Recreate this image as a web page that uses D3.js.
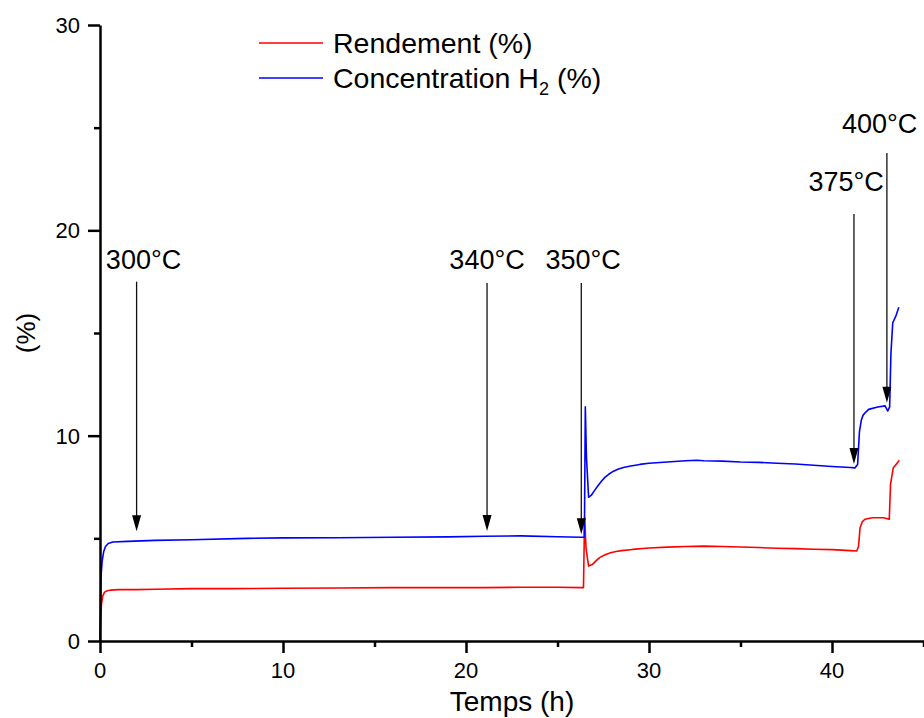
<!DOCTYPE html>
<html><head><meta charset="utf-8">
<script src="https://cdn.jsdelivr.net/npm/d3@7"></script>
<style>
html,body{margin:0;padding:0;background:#fff;}
svg{display:block;font-family:"Liberation Sans",Arial,sans-serif;}
</style></head>
<body><svg id="c" width="924" height="718"></svg>
<script>
// ---- data ----
const xTicksMajor = [0, 10, 20, 30, 40];
const xTicksMinor = [5, 15, 25, 35, 45];
const yTicksMajor = [0, 10, 20, 30];
const yTicksMinor = [5, 15, 25];

const seriesNames = ["Rendement (%)", "Concentration H2 (%)"];

const rendementTime = [0, 0.03, 0.08, 0.15, 0.25, 0.4, 0.6, 1, 2, 3, 5, 7, 10, 13, 16, 19, 21, 23, 25, 26.3, 26.42, 26.48, 26.56, 26.7, 26.9, 27.1, 27.3, 27.6, 27.9, 28.2, 28.5, 29.1, 30, 31, 32, 33, 34, 35, 36, 37, 38, 39, 40, 41, 41.35, 41.45, 41.53, 41.65, 41.8, 42.2, 42.8, 43.13, 43.2, 43.35, 43.5, 43.68];
const rendementValue = [0, 1.0, 1.8, 2.2, 2.38, 2.45, 2.48, 2.5, 2.5, 2.52, 2.55, 2.55, 2.57, 2.58, 2.6, 2.6, 2.6, 2.62, 2.62, 2.6, 2.6, 6.0, 4.5, 3.65, 3.72, 3.9, 4.06, 4.2, 4.3, 4.36, 4.4, 4.46, 4.53, 4.57, 4.6, 4.62, 4.6, 4.58, 4.55, 4.52, 4.5, 4.47, 4.45, 4.4, 4.38, 4.6, 5.5, 5.8, 5.93, 6.0, 6.0, 5.93, 7.64, 8.44, 8.6, 8.8];

const h2Time = [0, 0.03, 0.06, 0.12, 0.2, 0.3, 0.45, 0.7, 1.5, 3, 5, 8, 10, 13, 16, 19, 21, 23, 25, 26.3, 26.47, 26.52, 26.58, 26.7, 26.85, 27.0, 27.2, 27.4, 27.6, 27.8, 28.0, 28.3, 28.6, 29, 29.5, 30, 31, 32, 32.6, 33, 34, 35, 36, 37, 38, 39, 40, 41, 41.25, 41.4, 41.5, 41.6, 41.7, 41.85, 42, 42.5, 42.9, 43.05, 43.15, 43.22, 43.32, 43.5, 43.65];
const h2Value = [0, 2.0, 3.2, 3.9, 4.35, 4.6, 4.75, 4.82, 4.85, 4.9, 4.93, 5.0, 5.02, 5.03, 5.05, 5.07, 5.1, 5.12, 5.08, 5.05, 5.05, 11.4, 9.0, 7.0, 7.1, 7.3, 7.55, 7.78, 7.98, 8.12, 8.24, 8.36, 8.45, 8.52, 8.6, 8.66, 8.72, 8.78, 8.8, 8.78, 8.76, 8.72, 8.7, 8.66, 8.62, 8.56, 8.5, 8.45, 8.43, 8.6, 10.2, 10.75, 11.0, 11.15, 11.28, 11.4, 11.45, 11.2, 11.4, 14.0, 15.5, 15.85, 16.25];

const arrowLabels = ["300°C", "340°C", "350°C", "375°C", "400°C"];
const arrowTime = [2.0, 21.15, 26.3, 41.2, 43.0];
const arrowTop = [17.5, 17.44, 17.44, 20.8, 23.77];
const arrowTip = [5.35, 5.36, 5.2, 8.62, 11.6];
const labelTime = [2.38, 21.15, 26.4, 40.77, 42.6];
const labelValue = [18.12, 18.12, 18.12, 21.92, 24.74];

// ---- chart ----
const svg = d3.select("#c");
const x = d3.scaleLinear().domain([0, 45]).range([100, 923.5]);
const y = d3.scaleLinear().domain([0, 30]).range([641, 25]);

const line = d3.line().x(d => x(d[0])).y(d => y(d[1]));
const red = rendementTime.map((t, i) => [t, rendementValue[i]]);
const blue = h2Time.map((t, i) => [t, h2Value[i]]);

svg.append("path").datum(red).attr("d", line).attr("fill", "none")
  .attr("stroke", "#ff0000").attr("stroke-width", 1.6).attr("stroke-linejoin", "round");
svg.append("path").datum(blue).attr("d", line).attr("fill", "none")
  .attr("stroke", "#0000ff").attr("stroke-width", 1.6).attr("stroke-linejoin", "round");

// arrows
arrowLabels.forEach((lab, i) => {
  const xa = x(arrowTime[i]);
  svg.append("line").attr("x1", xa).attr("x2", xa)
    .attr("y1", y(arrowTop[i])).attr("y2", y(arrowTip[i]) - 15)
    .attr("stroke", "#111").attr("stroke-width", 1.3);
  svg.append("path")
    .attr("d", `M${xa - 4.5},${y(arrowTip[i]) - 16} L${xa + 4.5},${y(arrowTip[i]) - 16} L${xa},${y(arrowTip[i])} Z`)
    .attr("fill", "#000");
  svg.append("text").attr("x", x(labelTime[i])).attr("y", y(labelValue[i]))
    .attr("text-anchor", "middle").attr("font-size", 27).attr("fill", "#000").text(lab);
});

// axes
const gx = svg.append("g").attr("transform", "translate(0,641)");
gx.call(d3.axisBottom(x).tickValues(xTicksMajor).tickSize(12).tickSizeOuter(0).tickFormat(""));
gx.selectAll(".tick line").attr("stroke-width", 2.5);
gx.select(".domain").attr("stroke-width", 2.5);
const gxm = svg.append("g").attr("transform", "translate(0,641)");
gxm.call(d3.axisBottom(x).tickValues(xTicksMinor).tickSize(6).tickSizeOuter(0).tickFormat(""));
gxm.select(".domain").remove();
gxm.selectAll(".tick line").attr("stroke-width", 2.5);
svg.selectAll(".xlab").data(xTicksMajor).enter().append("text")
  .attr("x", d => x(d)).attr("y", 678).attr("text-anchor", "middle")
  .attr("font-size", 22).text(d => d);

const gy = svg.append("g").attr("transform", "translate(100,0)");
gy.call(d3.axisLeft(y).tickValues(yTicksMajor).tickSize(12).tickSizeOuter(0).tickFormat(""));
gy.selectAll(".tick line").attr("stroke-width", 2.5);
gy.select(".domain").attr("stroke-width", 2.5);
const gym = svg.append("g").attr("transform", "translate(100,0)");
gym.call(d3.axisLeft(y).tickValues(yTicksMinor).tickSize(6).tickSizeOuter(0).tickFormat(""));
gym.select(".domain").remove();
gym.selectAll(".tick line").attr("stroke-width", 2.5);
svg.selectAll(".ylab").data(yTicksMajor).enter().append("text")
  .attr("x", 80).attr("y", d => y(d) + 8).attr("text-anchor", "end")
  .attr("font-size", 22).text(d => d);

// axis titles
svg.append("text").attr("x", 512).attr("y", 711).attr("text-anchor", "middle")
  .attr("font-size", 28).text("Temps (h)");
svg.append("text").attr("transform", "translate(35,333) rotate(-90)")
  .attr("text-anchor", "middle").attr("font-size", 26).text("(%)");

// legend
const leg = svg.append("g");
leg.append("line").attr("x1", 259).attr("x2", 323).attr("y1", 43).attr("y2", 43)
  .attr("stroke", "#ff0000").attr("stroke-width", 1.6);
leg.append("line").attr("x1", 259).attr("x2", 323).attr("y1", 78).attr("y2", 78)
  .attr("stroke", "#0000ff").attr("stroke-width", 1.6);
leg.append("text").attr("x", 333).attr("y", 53).attr("font-size", 28.5).text(seriesNames[0]);
const t2 = leg.append("text").attr("x", 333).attr("y", 88).attr("font-size", 28.5);
t2.append("tspan").text("Concentration H");
t2.append("tspan").attr("font-size", 18).attr("dy", 7).text("2");
t2.append("tspan").attr("dy", -7).text(" (%)");
</script></body></html>
